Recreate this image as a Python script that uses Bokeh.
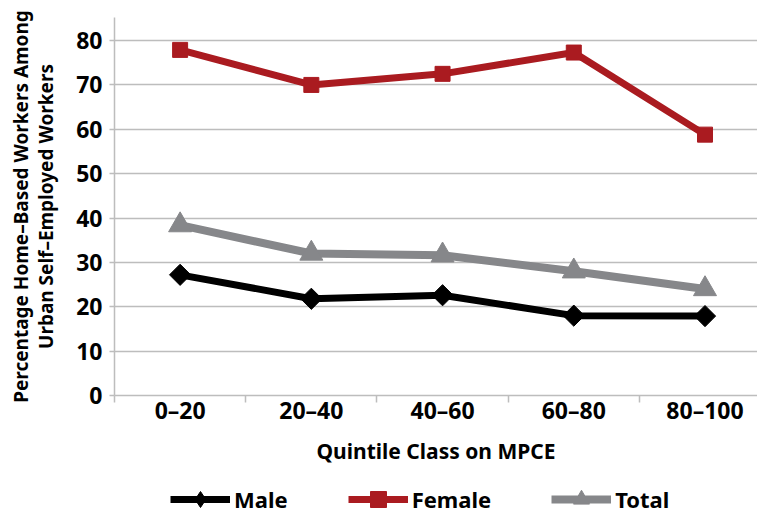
from bokeh.plotting import figure
from bokeh.layouts import column
from bokeh.models import FixedTicker, Legend, LegendItem, Range1d
from bokeh.embed import file_html
from bokeh.resources import INLINE

categories = ["0–20", "20–40", "40–60", "60–80", "80–100"]
male = [27.2, 21.8, 22.6, 18.0, 17.9]
female = [77.9, 70.0, 72.5, 77.3, 58.8]
total = [38.4, 32.0, 31.6, 28.0, 24.0]
y_ticks = [0, 10, 20, 30, 40, 50, 60, 70, 80]

FONT = "Noto Sans"
RED = "#AA1B20"
GREY = "#86878A"
BLACK = "#000000"
AXIS_GREY = "#BDBDBD"

x = [i + 0.5 for i in range(len(categories))]
bounds = list(range(len(categories) + 1))

p = figure(width=757, height=478, output_backend="svg", toolbar_location=None,
           x_range=Range1d(0, 4.9), y_range=Range1d(0, 85.2),
           min_border_left=114, min_border_top=17, min_border_bottom=83,
           min_border_right=0)
p.outline_line_color = None
p.background_fill_color = "white"
p.border_fill_color = "white"

p.xgrid.visible = False
p.ygrid.grid_line_color = AXIS_GREY
p.ygrid.grid_line_width = 1.5

# Y axis
p.yaxis.ticker = FixedTicker(ticks=y_ticks)
p.yaxis.axis_line_color = AXIS_GREY
p.yaxis.axis_line_width = 1.5
p.yaxis.major_tick_line_color = AXIS_GREY
p.yaxis.major_tick_line_width = 1.5
p.yaxis.major_tick_out = 5
p.yaxis.major_tick_in = 0
p.yaxis.minor_tick_line_color = None
p.yaxis.major_label_text_font = FONT
p.yaxis.major_label_text_font_style = "bold"
p.yaxis.major_label_text_font_size = "23px"
p.yaxis.major_label_text_color = BLACK
p.yaxis.major_label_standoff = 7
p.yaxis.axis_label = "Percentage Home–Based Workers Among\nUrban Self–Employed Workers"
p.yaxis.axis_label_text_font = FONT
p.yaxis.axis_label_text_font_style = "bold"
p.yaxis.axis_label_text_font_size = "19px"
p.yaxis.axis_label_text_line_height = 0.95
p.yaxis.axis_label_text_color = BLACK
p.yaxis.axis_label_standoff = 14

# X axis
p.xaxis.ticker = FixedTicker(ticks=x, minor_ticks=bounds)
p.xaxis.major_label_overrides = {xv: c for xv, c in zip(x, categories)}
p.xaxis.axis_line_color = AXIS_GREY
p.xaxis.axis_line_width = 1.5
p.xaxis.major_tick_line_color = None
p.xaxis.major_tick_out = 0
p.xaxis.major_tick_in = 0
p.xaxis.minor_tick_line_color = AXIS_GREY
p.xaxis.minor_tick_line_width = 1.5
p.xaxis.minor_tick_out = 7
p.xaxis.minor_tick_in = 0
p.xaxis.major_label_text_font = FONT
p.xaxis.major_label_text_font_style = "bold"
p.xaxis.major_label_text_font_size = "23px"
p.xaxis.major_label_text_color = BLACK
p.xaxis.major_label_standoff = -9
p.xaxis.axis_label = "Quintile Class on MPCE"
p.xaxis.axis_label_text_font = FONT
p.xaxis.axis_label_text_font_style = "bold"
p.xaxis.axis_label_text_font_size = "21px"
p.xaxis.axis_label_text_color = BLACK
p.xaxis.axis_label_standoff = 8


def draw_series(fig, male_marker, male_angle, male_size):
    ml = fig.line(x, male, line_color=BLACK, line_width=7)
    mm = fig.scatter(x, male, marker=male_marker, angle=male_angle, size=male_size,
                     fill_color=BLACK, line_color=BLACK)
    fl = fig.line(x, female, line_color=RED, line_width=7)
    fm = fig.scatter(x, female, marker="square", size=15, fill_color=RED, line_color=RED)
    tl = fig.line(x, total, line_color=GREY, line_width=8)
    tm = fig.scatter(x, total, marker="triangle", size=23, fill_color=GREY, line_color=GREY)
    return (ml, mm), (fl, fm), (tl, tm)


draw_series(p, "square", 0.7854, 15)

# Legend strip (same series, drawn outside its visible range so only the legend shows)
leg = figure(width=757, height=34, output_backend="svg", toolbar_location=None,
             x_range=Range1d(-20, -10), y_range=Range1d(0, 100),
             x_axis_location=None, y_axis_location=None,
             min_border_left=0, min_border_right=0, min_border_top=0, min_border_bottom=0)
leg.outline_line_color = None
leg.xgrid.visible = False
leg.ygrid.visible = False
m_r, f_r, t_r = draw_series(leg, "diamond", 0.0, 22)

legend = Legend(items=[
    LegendItem(label="Male", renderers=list(m_r)),
    LegendItem(label="Female", renderers=list(f_r)),
    LegendItem(label="Total", renderers=list(t_r)),
], orientation="horizontal", location=(56, -7), glyph_width=60, glyph_height=40,
    label_height=22, label_standoff=4, spacing=60, padding=0, margin=0,
    border_line_color=None, background_fill_alpha=0, label_text_font=FONT,
    label_text_font_style="bold", label_text_font_size="22px", label_text_color=BLACK)
leg.add_layout(legend)

layout = column(p, leg, spacing=0)
open("out.html", "w").write(file_html(layout, INLINE))
